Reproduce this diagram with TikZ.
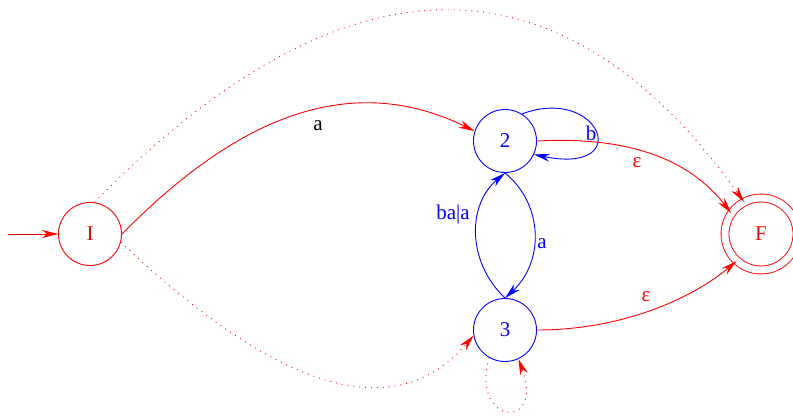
\documentclass[tikz,border=0pt]{standalone}
\usepackage{fontspec}
\setmainfont{Liberation Serif}
\usetikzlibrary{arrows.meta}
\begin{document}
\begin{tikzpicture}[x=1pt,y=-1pt,
  st/.style={circle,draw,line width=0.9pt,minimum size=63pt,inner sep=0pt,font=\fontsize{21}{24}\selectfont},
  acc/.style={st,double,double distance=7pt,minimum size=72pt},
  ed/.style={line width=0.9pt,-{Stealth[length=16pt,width=8pt,inset=5pt]}},
  dot/.style={ed,dash pattern=on 0.9pt off 5pt},
  lab/.style={font=\fontsize{21}{24}\selectfont,inner sep=0pt}]
\useasboundingbox (0,0) rectangle (793,416);
\node[st,red] (I) at (90,234) {I};
\node[st,blue] (n2) at (505,141) {2};
\node[st,blue] (n3) at (505,330) {3};
\node[acc,red] (F) at (761,234) {F};
\coordinate (s) at (8,234);
% initial
\draw[ed,red] (s) -- (I);
% I -> 2
\draw[ed,red] (I.east) .. controls (210,145) and (330,60) .. (n2.162);
\node[lab] (la) at (318,126) {a};
% 2 -> F
\draw[ed,red] (n2.east) .. controls (630,136) and (690,160) .. (F.145);
\node[lab,red] (le1) at (637,163) {ε};
% 3 -> F
\draw[ed,red] (n3.east) .. controls (620,330) and (690,300) .. (F.228);
\node[lab,red] (le2) at (646,297) {ε};
% 2 loop
\draw[ed,blue] (n2.58) .. controls (600,85) and (635,175) .. (n2.-25);
\node[lab,blue] (lb) at (591,133) {b};
% 2 -> 3
\draw[ed,blue] (n2.south) .. controls (544,205) and (544,262) .. (n3.north);
\node[lab,blue] (la2) at (542,244) {a};
% 3 -> 2
\draw[ed,blue] (n3.north) .. controls (467,262) and (467,205) .. (n2.south);
\node[lab,blue] (lba) at (453,214) {ba|a};
% I -> F dotted
\draw[dot,red] (I.82) .. controls (345,-53) and (562,-53) .. (F.118);
% I -> 3 dotted
\draw[dot,red] (I.-15) .. controls (240,355) and (380,445) .. (n3.190);
% 3 loop dotted
\draw[dot,red] (n3.-120) .. controls (470,425) and (545,432) .. (n3.-65);
\end{tikzpicture}
\end{document}
